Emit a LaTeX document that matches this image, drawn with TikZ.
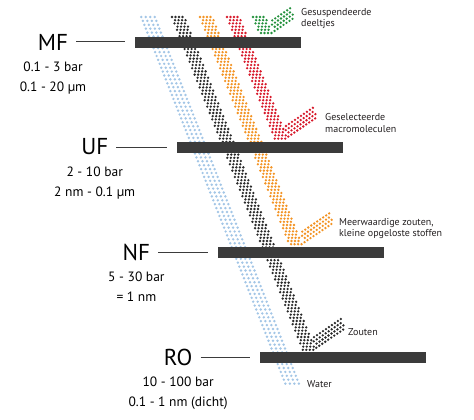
\documentclass[tikz,border=0pt]{standalone}
\usepackage{fontspec}
\setmainfont{PT Sans}
\usepackage{tikz}
\usetikzlibrary{positioning}

\definecolor{barcol}{HTML}{3B3B3B}
\definecolor{tagcol}{HTML}{231F20}
\definecolor{dotblue}{HTML}{A3C6E6}
\definecolor{dotblack}{HTML}{2A2A2A}
\definecolor{dotorange}{HTML}{F39323}
\definecolor{dotred}{HTML}{D7192A}
\definecolor{dotgreen}{HTML}{23913C}

\begin{document}
\begin{tikzpicture}[x=1pt, y=-1pt,
			membrane/.style={fill=barcol, draw=none, minimum width=166pt, minimum height=11pt, inner sep=0pt},
			tick/.style={draw=barcol, line width=1pt},
			filtername/.style={font=\fontsize{23}{26}\selectfont, inner sep=0pt},
			rangetext/.style={font=\fontsize{13.5}{20}\selectfont, align=center, inner sep=0pt},
			tagtext/.style={font=\fontsize{10}{11.5}\selectfont, align=left, anchor=west, inner sep=0pt, text=tagcol}]

			\useasboundingbox (0,0) rectangle (474,420);

			% water goes through every membrane
			\foreach \k in {0,...,94}{
				\foreach \j in {0,...,3}{
					\fill[dotblue] ({141.3+0.393*3.9*\k+4.5*\j},{17+3.9*\k}) circle (1.35pt);
				}
			}

			% retained streams, each with its reflected arm
			\foreach \col/\x/\n/\m in {dotblack/172/104/10, dotorange/200/71/10, dotred/227/38/10, dotgreen/253/5/7}{
				\foreach \k in {0,...,\n}{
					\foreach \j in {0,...,3}{
						\fill[\col] ({\x+0.393*3.2*\k+3.5*\j+1.75*mod(\k,2)},{17+3.2*\k}) circle (1.3pt);
					}
				}
				\foreach \j in {0,...,3}{
					\foreach \i in {1,...,\m}{
						\fill[\col] ({\x+0.393*3.2*(\n-\j)+10.5+1.75*mod(\n,2)+2.99*\i+1.5*mod(\j,2)},{17+3.2*(\n-\j)-2.02*\i-1.01*mod(\j,2)}) circle (1.3pt);
					}
				}
			}

			% membranes and their labels
			\foreach \name/\pres/\pore [count=\i from 0] in {MF/0.1 - 3 bar/0.1 - 20 µm, UF/2 - 10 bar/2 nm - 0.1 µm, NF/5 - 30 bar/= 1 nm, RO/10 - 100 bar/{0.1 - 1 nm (dicht)}}{
				\node[membrane] (bar\i) at ({218+41.7*\i},{42.5+105*\i}) {};
				\node[filtername] (lab\i) at ({53+41.7*\i},{42+105*\i}) {\name};
				\node[rangetext, below=11.5pt of lab\i] (par\i) {\pres\\\pore};
				\draw[tick] ([xshift=8pt]lab\i.east) -- ([xshift=-10pt]lab\i.east -| bar\i.west);
			}

			\node[tagtext] (t0) at (301,18.5) {Gesuspendeerde\\deeltjes};
			\node[tagtext] (t1) at (325,123) {Geselecteerde\\macromoleculen};
			\node[tagtext] (t2) at (339,228.5) {Meerwaardige zouten,\\kleine opgeloste stoffen};
			\node[tagtext] (t3) at (348,332) {Zouten};
			\node[tagtext] (t4) at (307,384) {Water};
		\end{tikzpicture}
\end{document}
